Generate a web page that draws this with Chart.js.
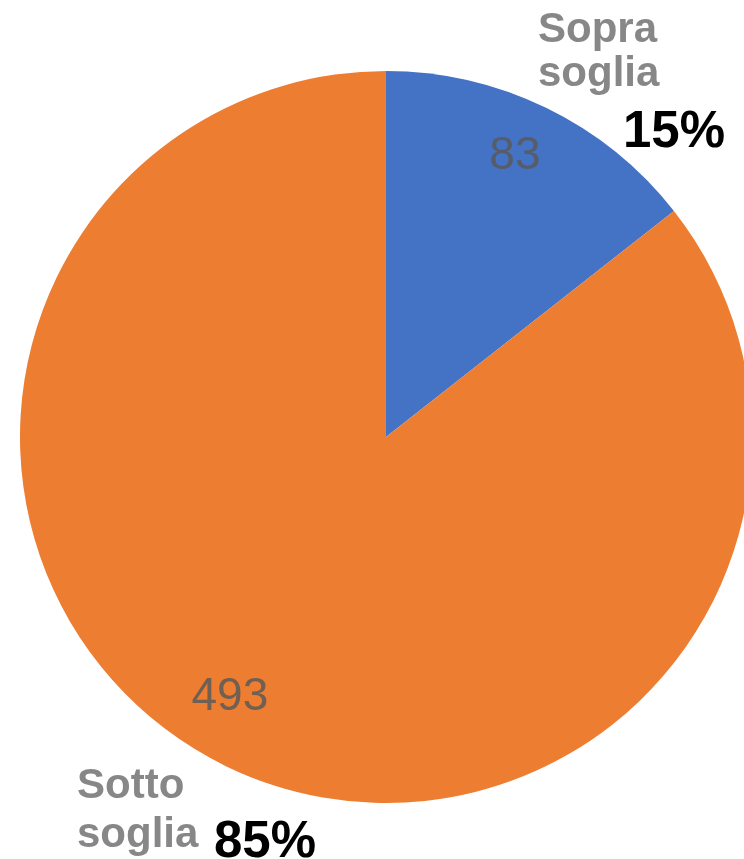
<!DOCTYPE html>
<html>
<head>
<meta charset="utf-8">
<script src="https://cdn.jsdelivr.net/npm/chart.js@4/dist/chart.umd.min.js"></script>
<style>
  html, body { margin: 0; padding: 0; background: #fff; overflow: hidden; }
  #wrap { position: absolute; left: 0; top: 0; width: 800px; height: 859px; }
</style>
</head>
<body>
<div id="wrap"><canvas id="c" width="800" height="859"></canvas></div>
<script>
// ---- data ----
const categories = ['Sopra soglia', 'Sotto soglia'];
const values = [83, 493];
const percentLabels = ['15%', '85%'];
const colors = ['#4472C4', '#ED7D31'];

// ---- layout (text placement only) ----
const valueLabelLayout = [
  { dAngle: -1.4, frac: 0.848 },   // degrees offset from slice mid-angle, fraction of radius
  { dAngle: 5.2, frac: 0.825 }
];
const categoryLabelLayout = [
  { x: 538, lines: [42, 86], px: 623, py: 147 },
  { x: 77, lines: [798, 847], px: 214, py: 857 }
];

const labelPlugin = {
  id: 'labels',
  afterDraw(chart) {
    const ctx = chart.ctx;
    const meta = chart.getDatasetMeta(0);
    ctx.save();
    meta.data.forEach((arc, i) => {
      const p = arc.getProps(['x', 'y', 'startAngle', 'endAngle', 'outerRadius'], true);
      const mid = (p.startAngle + p.endAngle) / 2 + valueLabelLayout[i].dAngle * Math.PI / 180;
      const r = p.outerRadius * valueLabelLayout[i].frac;
      const tx = p.x + Math.cos(mid) * r;
      const ty = p.y + Math.sin(mid) * r;
      ctx.font = '46px "Liberation Sans", Arial, sans-serif';
      ctx.fillStyle = 'rgba(89,89,89,0.85)';
      ctx.textAlign = 'center';
      ctx.textBaseline = 'middle';
      ctx.fillText(String(values[i]), tx, ty + 2);

      const L = categoryLabelLayout[i];
      const words = categories[i].split(' ');
      ctx.textAlign = 'left';
      ctx.textBaseline = 'alphabetic';
      ctx.font = 'bold 42px "Liberation Sans", Arial, sans-serif';
      ctx.fillStyle = '#878787';
      words.forEach((w, k) => ctx.fillText(w, L.x, L.lines[k]));
      ctx.font = 'bold 51px "Liberation Sans", Arial, sans-serif';
      ctx.fillStyle = '#000000';
      ctx.fillText(percentLabels[i], L.px, L.py);
    });
    ctx.restore();
  }
};

new Chart(document.getElementById('c'), {
  type: 'pie',
  data: {
    labels: categories,
    datasets: [{
      data: values,
      backgroundColor: colors,
      borderWidth: 0
    }]
  },
  options: {
    responsive: false,
    animation: false,
    devicePixelRatio: 1,
    layout: { padding: { left: 20, top: 71, right: 48, bottom: 56 } },
    plugins: { legend: { display: false }, tooltip: { enabled: false } }
  },
  plugins: [labelPlugin]
});
</script>
</body>
</html>
